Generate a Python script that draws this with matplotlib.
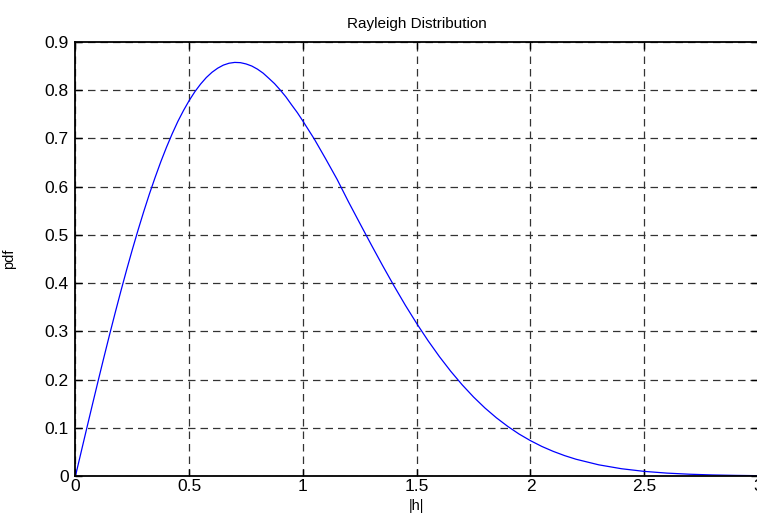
import numpy as np
import matplotlib.pyplot as plt

plt.rcParams['font.family'] = ['Liberation Sans', 'DejaVu Sans']

# values
h = [0, 0.025, 0.05, 0.075, 0.1, 0.125, 0.15, 0.175, 0.2, 0.225, 0.25, 0.275,
     0.3, 0.325, 0.35, 0.375, 0.4, 0.425, 0.45, 0.475, 0.5, 0.525, 0.55, 0.575,
     0.6, 0.625, 0.65, 0.675, 0.7, 0.725, 0.75, 0.775, 0.8, 0.825, 0.85, 0.875,
     0.9, 0.925, 0.95, 0.975, 1.0, 1.05, 1.1, 1.15, 1.2, 1.25, 1.3, 1.35,
     1.4, 1.45, 1.5, 1.55, 1.6, 1.65, 1.7, 1.75, 1.8, 1.85, 1.9, 1.95, 2.0, 2.05,
     2.1, 2.15, 2.2, 2.3, 2.4, 2.5, 2.6, 2.7, 2.8, 2.9, 3.0]
pdf = [0, 0.0500, 0.0998, 0.1492, 0.198, 0.2461, 0.2933, 0.3394, 0.3843, 0.4278,
       0.4697, 0.5099, 0.5483, 0.5849, 0.6191, 0.6516, 0.6817, 0.7096, 0.7353,
       0.7581, 0.7788, 0.7971, 0.8128, 0.8263, 0.8372, 0.8457, 0.8521, 0.8560,
       0.8577, 0.8572, 0.8545, 0.8502, 0.8437, 0.8354, 0.8247, 0.8137, 0.8005,
       0.7862, 0.7697, 0.7537, 0.7358, 0.6986, 0.6575, 0.6152, 0.5686, 0.5240,
       0.4797, 0.4364, 0.3944, 0.3541, 0.3162, 0.2805, 0.2474, 0.2169, 0.1890,
       0.1637, 0.1410, 0.1208, 0.1029, 0.0870, 0.0733, 0.0613, 0.0511, 0.0423,
       0.0348, 0.0232, 0.0151, 0.0096, 0.0060, 0.0037, 0.0022, 0.0013, 0.0007]

xticks = [0, 0.5, 1, 1.5, 2, 2.5, 3]
xtick_labels = ['0', '0.5', '1', '1.5', '2', '2.5', '3']
yticks = [0, 0.1, 0.2, 0.3, 0.4, 0.5, 0.6, 0.7, 0.8, 0.9]
ytick_labels = ['0', '0.1', '0.2', '0.3', '0.4', '0.5', '0.6', '0.7', '0.8', '0.9']

fig = plt.figure(figsize=(7.57, 5.13), dpi=100)
ax = fig.add_axes([0.0997, 0.0721, 0.9016, 0.846])

ax.plot(h, pdf, color='#0000ff', lw=0.9)

ax.set_xlim(0, 3)
ax.set_ylim(0, 0.9)
ax.set_xticks(xticks)
ax.set_xticklabels(xtick_labels)
ax.set_yticks(yticks)
ax.set_yticklabels(ytick_labels)
ax.tick_params(direction='in', top=True, right=True, length=5, width=1,
               labelsize=12.5, pad=5)
ax.tick_params(axis='x', pad=2)
ax.grid(True, color='#333333', ls=(0, (6, 4)), lw=0.9)
for s in ax.spines.values():
    s.set_linewidth(1.3)

ax.set_title('Rayleigh Distribution', fontsize=11, pad=10)
ax.set_xlabel('|h|', fontsize=10.5, labelpad=4)
ax.set_ylabel('pdf', fontsize=10.5, labelpad=20)

fig.savefig('out.png', dpi=100)
